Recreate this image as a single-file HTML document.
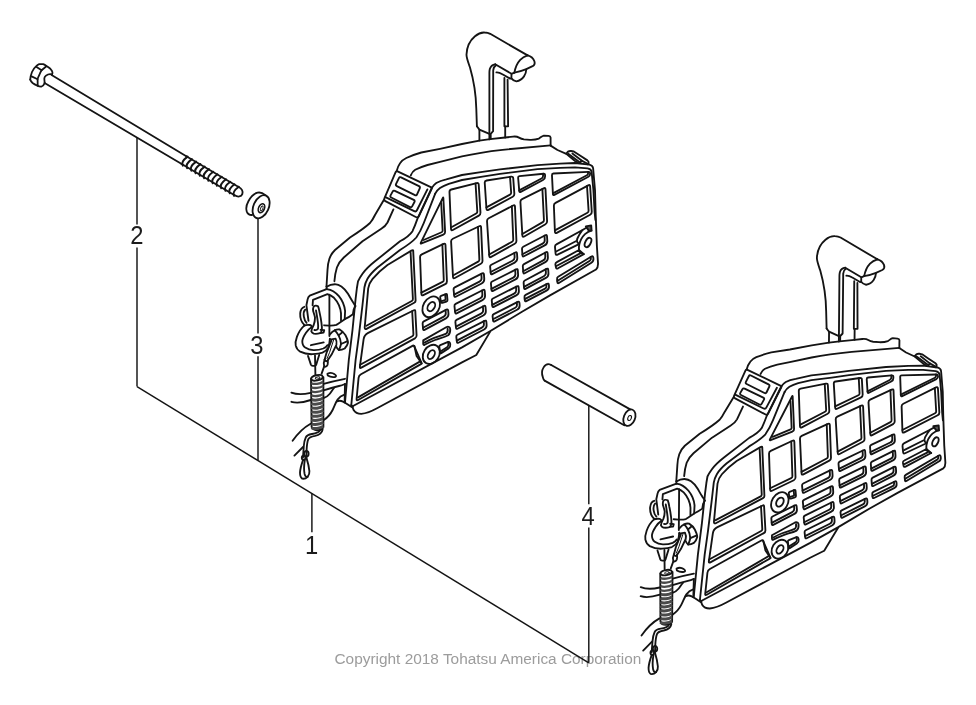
<!DOCTYPE html>
<html><head><meta charset="utf-8"><title>Parts diagram</title>
<style>
html,body{margin:0;padding:0;background:#fff;}
body{width:976px;height:705px;overflow:hidden;font-family:"Liberation Sans",sans-serif;}
svg{display:block;}
text{font-family:"Liberation Sans",sans-serif;}
</style></head><body>
<svg width="976" height="705" viewBox="0 0 976 705">
<defs><filter id="nf" x="-5%" y="-5%" width="110%" height="110%"><feOffset dx="0" dy="0"/></filter></defs>
<g filter="url(#nf)">
<text transform="translate(334.5,663.8) scale(1,1)" font-size="15.4" fill="#9c9c9c" text-anchor="start">Copyright 2018 Tohatsu America Corporation</text>
</g>
<g fill="none" stroke="#141414" stroke-width="1.8" stroke-linecap="round" stroke-linejoin="round">
<path d="M137.00,137.50 L137.00,224.40" stroke-width="1.45" stroke-linecap="butt"/>
<path d="M137.00,247.60 L137.00,386.60" stroke-width="1.45" stroke-linecap="butt"/>
<path d="M137.00,386.60 L588.80,662.80" stroke-width="1.45" stroke-linecap="butt"/>
<path d="M258.00,218.60 L258.00,333.40" stroke-width="1.45" stroke-linecap="butt"/>
<path d="M258.00,356.30 L258.00,460.60" stroke-width="1.45" stroke-linecap="butt"/>
<path d="M311.90,493.40 L311.90,532.20" stroke-width="1.45" stroke-linecap="butt"/>
<path d="M588.80,405.50 L588.80,504.20" stroke-width="1.45" stroke-linecap="butt"/>
<path d="M588.80,527.60 L588.80,662.80" stroke-width="1.45" stroke-linecap="butt"/>
<path d="M51.6,75.0 L186.3,156.2"/>
<path d="M44.6,82.9 L181.3,163.8"/>
<path d="M30.2,79.6 C30.4,76.8 31.2,74.0 32.0,72.0 C33.0,69.4 34.6,67.6 36.0,66.4 C37.0,65.4 38.2,64.6 39.2,64.2 L43.2,64.2 C44.4,64.6 45.4,65.2 46.4,66.0 C47.8,66.8 49.2,67.8 50.4,68.8 C51.4,69.8 52.2,70.8 52.4,72.0 C52.6,73.0 52.4,73.8 52.0,74.4"/>
<path d="M52.0,74.4 C50.6,73.9 49.2,74.0 48.0,74.5 C46.6,75.1 45.4,75.9 44.8,76.9 C44.2,78.0 44.2,79.0 44.4,80.0 L44.7,83.2"/>
<path d="M36.2,66.8 L41.6,70.2 L46.4,66.2"/>
<path d="M41.6,70.2 C40.4,72.0 39.8,73.6 39.2,75.2 C38.4,76.8 37.8,78.0 37.6,79.2 L37.7,85.8"/>
<path d="M31.6,76.4 L37.6,79.2"/>
<path d="M30.2,79.6 C30.6,81.0 31.4,82.0 32.6,83.0 C34.0,84.0 35.4,84.8 36.8,85.4 C38.4,86.2 40.0,86.8 41.3,86.7 C42.8,86.4 43.9,85.0 44.7,83.2"/>
<path d="M186.3,156.2 L238.2,186.8"/>
<path d="M181.3,163.8 L234.6,195.3"/>
<path d="M238.2,186.8 C241.5,188.5 243.2,191.5 242.3,194.2 C241.2,196.8 237.8,197.3 234.6,195.3"/>
<path d="M187.60,156.60 C184.60,158.80 180.80,162.00 182.80,165.60" stroke-width="2.0"/>
<path d="M191.87,159.12 C188.87,161.32 185.07,164.52 187.07,168.12" stroke-width="2.0"/>
<path d="M196.13,161.63 C193.13,163.83 189.33,167.03 191.33,170.63" stroke-width="2.0"/>
<path d="M200.40,164.15 C197.40,166.35 193.60,169.55 195.60,173.15" stroke-width="2.0"/>
<path d="M204.67,166.67 C201.67,168.87 197.87,172.07 199.87,175.67" stroke-width="2.0"/>
<path d="M208.93,169.18 C205.93,171.38 202.13,174.58 204.13,178.18" stroke-width="2.0"/>
<path d="M213.20,171.70 C210.20,173.90 206.40,177.10 208.40,180.70" stroke-width="2.0"/>
<path d="M217.47,174.22 C214.47,176.42 210.67,179.62 212.67,183.22" stroke-width="2.0"/>
<path d="M221.73,176.73 C218.73,178.93 214.93,182.13 216.93,185.73" stroke-width="2.0"/>
<path d="M226.00,179.25 C223.00,181.45 219.20,184.65 221.20,188.25" stroke-width="2.0"/>
<path d="M230.27,181.77 C227.27,183.97 223.47,187.17 225.47,190.77" stroke-width="2.0"/>
<path d="M234.53,184.28 C231.53,186.48 227.73,189.68 229.73,193.28" stroke-width="2.0"/>
<path d="M238.80,186.80 C235.80,189.00 232.00,192.20 234.00,195.80" stroke-width="2.0"/>
<path d="M265.4,195.1 C262.5,192.8 259.8,192.2 257.6,192.7 C253.5,193.8 250.6,197.2 248.4,201.2 C246.5,204.6 245.8,208.3 246.7,211.3 C247.6,213.6 249.7,215.2 252.1,215.0"/>
<ellipse cx="261.1" cy="206.8" rx="7.6" ry="12.2" transform="rotate(24 261.1 206.8)"/>
<ellipse cx="261.5" cy="208.2" rx="2.9" ry="4.7" transform="rotate(24 261.5 208.2)" stroke-width="1.6"/>
<ellipse cx="261.7" cy="208.4" rx="1.1" ry="2.6" transform="rotate(24 261.7 208.4)" stroke-width="0.9"/>
<path d="M551.2,365.0 L630.2,409.4"/>
<path d="M544.6,380.6 L624.2,425.3"/>
<path d="M551.2,365.0 C548.5,363.6 545.4,364.4 543.6,367.4 C541.6,370.6 541.8,374.6 542.9,377.4 C543.3,378.9 543.8,380.0 544.6,380.6"/>
<ellipse cx="629.4" cy="417.7" rx="5.6" ry="8.6" transform="rotate(22 629.4 417.7)"/>
<ellipse cx="629.6" cy="418.0" rx="1.7" ry="2.6" transform="rotate(22 629.6 418.0)" stroke-width="1.1"/>
</g>
<g fill="none" stroke="#141414" stroke-width="1.85" stroke-linecap="round" stroke-linejoin="round">
<path d="M476.9,126.3 L476.3,108.8 C476.0,95 474.2,82 470.0,67.5 C467.5,60.5 466.3,57.5 466.5,54.5 C466.8,47 470.2,40.2 475.0,36.2 C478.0,33.6 481.8,32.3 484.6,32.5 C487.0,32.6 488.6,33.0 490.2,33.8 L527.6,55.4"/>
<path d="M527.6,55.4 C530.6,56.2 533.4,58.4 534.4,61.2 C535.1,63.4 534.4,65.2 532.6,66.2 L526.3,69.2 C522.5,70.8 518.5,72.0 514.4,72.6"/>
<path d="M527.6,55.4 C524.6,56.4 522.2,57.8 520.2,59.8 C517.6,62.6 515.4,66.8 514.4,72.6"/>
<path d="M526.3,69.2 C526.2,72.0 525.4,74.4 524.0,76.4 C522.2,79.0 519.4,80.8 516.4,81.3 C514.4,81.0 512.6,80.0 511.4,78.4 L511.5,73.8 L514.4,72.6"/>
<path d="M495.2,64.3 L511.5,73.8"/>
<path d="M496.4,72.4 C498.4,72.2 500.4,73.0 502.4,74.2 L510.2,78.6 L511.4,78.4"/>
<path d="M495.2,64.3 C492.6,64.6 490.6,66.4 489.8,69.0 C489.5,70.4 489.4,71.6 489.4,72.6 L489.4,139.4"/>
<path d="M495.8,65.4 C494.2,66.4 493.4,68.2 493.2,70.4 L493.1,131.2 L490.7,133.8 L490.7,138.9"/>
<path d="M504.4,77.8 L504.4,126.3 L508.1,126.3 L507.6,79.6"/>
<path d="M505.2,126.3 L505.2,137.5"/>
<path d="M476.9,126.3 L479.4,129.6 L489.4,133.9"/>
<path d="M479.4,129.8 L479.4,140.6"/>
<path d="M396.6,171.3 C397.6,167.6 398.6,165.0 400.2,163.0 C401.8,160.8 403.8,159.2 406.3,158.0 C411.0,155.8 416.0,154.0 421.3,152.5 L440.0,148.8 L462.0,144.0 L479.4,140.7 L490.0,139.2 L505.2,137.5 L513.0,136.6 C515.6,136.3 517.4,136.6 519.0,137.6 C520.6,138.6 522.2,139.2 524.0,139.4 L530.0,139.8 C533.6,139.9 536.8,139.4 538.8,138.6 C540.6,137.6 541.8,136.0 543.8,135.6 L548.6,135.9 C549.8,136.1 550.5,136.8 550.6,137.6 L550.6,145.6"/>
<path d="M410.8,175.4 C411.8,172.8 413.2,171.0 415.2,169.8 C418.6,168.0 422.8,166.4 427.5,165.0 L440.0,161.9 L462.0,156.4 C475.0,153.4 488.0,151.4 502.5,149.8 L550.6,145.4"/>
<path d="M550.6,145.6 L557.5,150.0 L566.3,153.9 L575.0,161.0 L578.0,162.8"/>
<path d="M566.3,153.6 L568.0,151.6 C569.0,151.0 570.0,150.9 571.0,151.0 L573.8,151.5 L580.0,155.6 L587.4,160.4 C588.4,161.2 588.9,162.2 588.6,163.2 L587.8,164.4"/>
<path d="M568.2,153.8 L580.0,162.4"/>
<path d="M572.4,153.6 L581.6,160.6 L587.6,163.8"/>
<path d="M581.6,160.6 L580.4,162.6"/>
<path d="M431.9,187.7 C433.2,185.6 434.6,184.2 436.3,183.0 C439.0,181.4 442.4,180.2 446.3,179.3 L462.0,175.0 L482.5,171.9 L500.0,169.4 L537.5,165.2 L560.0,163.6 L575.0,163.0 L589.4,164.6 C591.6,165.2 592.8,166.4 593.1,168.2 L595.0,190.0 L595.7,215.0 L596.9,246.3 L598.0,263.0 C598.2,266.0 597.6,268.0 596.0,269.5 L550.0,295.4 L522.0,311.8 L490.0,331.2 L462.0,347.4 L352.6,406.3"/>
<path d="M435.2,193.6 C436.6,191.0 438.0,189.4 440.0,188.0 C442.4,186.4 445.4,185.0 448.8,183.8 L462.0,180.0 L482.5,176.6 L500.0,173.8 L537.5,169.2 L560.0,167.8 L575.0,167.4 L587.6,168.4 C589.8,168.8 591.2,169.8 591.6,171.6 L593.4,190.0 L594.6,212.0 L595.4,220.0"/>
<path d="M431.9,187.7 L417.5,218.6 C415.6,224.0 414.0,228.0 412.5,231.2 C409.6,235.6 405.4,238.4 400.0,241.3 L375.0,261.3 C369.6,265.6 365.4,269.6 362.5,273.8 C360.4,276.8 358.8,279.6 358.0,281.3 L356.9,288.0 L355.6,298.8 L352.5,330.0 L348.8,360.0 L345.0,402.5"/>
<path d="M435.2,193.6 L423.8,223.0 C421.6,228.6 419.2,233.4 416.3,237.5 C412.0,242.4 406.4,246.0 400.0,250.0 L377.5,267.5 C373.0,271.4 369.6,275.2 367.5,278.8 C365.8,281.8 364.8,285.0 364.4,287.5 L362.5,305.0 L358.8,336.3 L355.6,360.0 L351.3,405.0"/>
<path d="M351.3,405.0 C351.6,406.2 352.0,406.5 352.6,406.3"/>
<path d="M490.2,331.6 L476.3,355.0 L462.0,362.4 L377.5,408.0 C371.0,411.6 366.0,413.4 361.3,413.8 C357.6,413.8 355.0,412.4 353.6,410.0 C352.8,408.6 352.6,407.4 352.6,406.3"/>
<path d="M383.8,200.0 L375.0,215.0 C373.6,218.0 372.0,220.6 370.0,223.0 C365.0,227.6 358.0,232.4 350.0,237.5 L335.0,250.0 C332.4,252.6 330.4,255.6 329.4,258.8 C328.2,262.4 327.6,266.0 327.5,270.0 L326.5,286.3"/>
<path d="M393.4,209.4 L387.5,222.5 C386.0,225.2 384.0,227.2 381.3,228.8 L362.5,241.3 L343.8,257.5 C340.4,260.6 338.2,264.0 336.9,267.5 C335.6,271.6 334.8,276.0 334.4,281.3"/>
<path d="M397.56,171.44 L431.30,187.37 Q432.20,187.80 431.78,188.71 L419.06,215.93 Q418.00,218.20 415.78,217.04 L385.37,201.13 Q383.60,200.20 384.39,198.36 L395.61,172.18 Q396.20,170.80 397.56,171.44 Z"/>
<path d="M427.40,189.40 L416.90,210.21 Q416.00,212.00 414.20,211.13 L385.40,197.20"/>
<path d="M401.04,177.30 L418.96,186.10 Q420.40,186.80 419.75,188.26 L417.05,194.34 Q416.40,195.80 414.97,195.09 L396.83,186.11 Q395.40,185.40 396.09,183.96 L398.91,178.04 Q399.60,176.60 401.04,177.30 Z"/>
<path d="M394.84,190.89 L413.76,199.91 Q415.20,200.60 414.45,202.02 L412.15,206.38 Q411.40,207.80 409.97,207.07 L391.23,197.53 Q389.80,196.80 390.57,195.40 L392.63,191.60 Q393.40,190.20 394.84,190.89 Z"/>
<path d="M413.2,250.6 L415.6,300.4 Q415.7,302.0 414.2,302.8 L367.0,328.6 Q364.5,330.0 364.7,327.2 L368.2,288.4 C368.8,284.6 370.4,281.4 372.6,278.8 C376.8,273.8 381.6,269.4 387.5,265.0 L411.4,250.6 Q413.1,249.6 413.2,250.6 Z"/>
<path d="M410.6,252.6 L412.9,299.0 Q412.9,300.4 411.8,301.0 L366.4,325.8"/>
<path d="M368.23,332.81 L413.86,310.26 Q415.20,309.60 415.28,311.10 L416.59,335.40 Q416.70,337.40 414.94,338.36 L361.36,367.64 Q359.60,368.60 359.87,366.62 L363.59,339.26 Q364.20,334.80 368.23,332.81 Z"/>
<path d="M412.18,311.09 L413.42,334.22 Q413.50,335.62 412.27,336.29 L360.12,364.78"/>
<path d="M360.99,374.20 L412.92,345.68 Q413.80,345.20 414.20,346.12 L421.40,362.68 Q421.80,363.60 420.93,364.10 L358.14,400.01 Q356.40,401.00 356.59,399.01 L358.57,377.89 Q358.80,375.40 360.99,374.20 Z"/>
<path d="M420.2,361.4 L358.0,397.4"/>
<path d="M414.4,346.0 L416.6,356.0 L421.8,363.6"/>
<path d="M443.35,198.00 L445.10,231.80 Q445.20,233.80 443.35,234.56 L421.59,243.43 Q420.20,244.00 420.86,242.65 L442.86,197.90 Q443.30,197.00 443.35,198.00 Z"/>
<path d="M441.20,203.00 L442.64,230.60 Q442.70,231.80 441.60,232.27 L423.60,240.00"/>
<path d="M421.80,254.33 L443.60,243.87 Q445.40,243.00 445.48,245.00 L446.92,281.20 Q447.00,283.20 445.21,284.10 L423.29,295.10 Q421.50,296.00 421.43,294.00 L420.07,257.20 Q420.00,255.20 421.80,254.33 Z"/>
<path d="M442.36,244.46 L443.77,279.93 Q443.82,281.33 442.57,281.95 L421.37,292.59"/>
<ellipse cx="431.2" cy="306.8" rx="8.0" ry="11.0" transform="rotate(30 431.2 306.8)"/>
<ellipse cx="431.3" cy="306.6" rx="3.3" ry="5.0" transform="rotate(32 431.3 306.6)"/>
<path d="M441.11,295.95 L445.79,294.05 Q446.90,293.60 447.01,294.79 L447.49,300.01 Q447.60,301.20 446.45,301.56 L442.35,302.84 Q441.20,303.20 440.99,302.02 L440.21,297.58 Q440.00,296.40 441.11,295.95 Z"/>
<path d="M445.16,294.31 L445.60,299.12 Q445.67,299.92 444.91,300.15 L440.88,301.41"/>
<path d="M423.83,321.31 L446.40,309.63 Q448.00,308.80 448.18,310.59 L448.48,313.62 Q448.80,316.80 445.98,318.32 L424.52,329.89 Q423.20,330.60 423.08,329.10 L422.62,323.50 Q422.50,322.00 423.83,321.31 Z"/>
<path d="M445.52,310.09 L445.78,312.75 Q446.04,315.33 443.75,316.57 L422.97,327.77"/>
<path d="M423.2,340.4 L446.6,327.0 C448.6,326.2 450.0,327.2 450.2,329.0 C450.4,331.6 449.6,334.0 448.2,335.2 C444.0,337.4 439.0,338.4 435.0,340.0 C431.0,341.6 427.4,343.2 424.6,344.8 Q423.2,345.4 423.2,343.8 Z"/>
<path d="M447.6,328.6 C448.0,330.6 447.4,332.6 446.2,333.6 C442.0,335.6 437.6,336.6 433.6,338.2 C430.0,339.6 427.0,341.2 424.6,342.6"/>
<ellipse cx="431.3" cy="354.4" rx="7.8" ry="10.2" transform="rotate(32 431.3 354.4)"/>
<ellipse cx="431.3" cy="354.6" rx="3.0" ry="4.8" transform="rotate(32 431.3 354.6)"/>
<path d="M440.31,345.14 L447.49,342.16 Q449.80,341.20 450.14,343.68 L450.26,344.52 Q450.60,347.00 448.51,348.37 L441.20,353.14 Q440.20,353.80 440.05,352.61 L439.35,346.79 Q439.20,345.60 440.31,345.14 Z"/>
<path d="M448.08,341.91 L448.40,344.23 Q448.66,346.12 447.07,347.16 L439.96,351.81"/>
<path d="M451.34,189.51 L476.66,183.09 Q478.60,182.60 478.72,184.60 L480.48,212.60 Q480.60,214.60 478.85,215.57 L452.85,230.03 Q451.10,231.00 451.02,229.00 L449.48,192.00 Q449.40,190.00 451.34,189.51 Z"/>
<path d="M475.54,183.37 L477.30,211.44 Q477.38,212.84 476.16,213.52 L450.96,227.53"/>
<path d="M452.81,238.74 L479.19,226.26 Q481.00,225.40 481.09,227.40 L482.51,260.80 Q482.60,262.80 480.85,263.76 L454.85,278.04 Q453.10,279.00 452.99,277.00 L451.11,241.60 Q451.00,239.60 452.81,238.74 Z"/>
<path d="M477.96,226.84 L479.36,259.61 Q479.42,261.01 478.19,261.68 L452.92,275.56"/>
<path d="M454.74,287.32 L482.19,273.41 Q483.80,272.60 483.93,274.40 L484.26,278.81 Q484.50,282.00 481.65,283.46 L455.74,296.72 Q454.40,297.40 454.24,295.91 L453.56,289.49 Q453.40,288.00 454.74,287.32 Z"/>
<path d="M481.29,273.87 L481.59,277.88 Q481.78,280.47 479.46,281.66 L454.11,294.63"/>
<path d="M455.64,303.92 L483.00,290.02 Q484.60,289.20 484.73,291.00 L485.06,295.41 Q485.30,298.60 482.45,300.06 L456.63,313.31 Q455.30,314.00 455.14,312.51 L454.46,306.09 Q454.30,304.60 455.64,303.92 Z"/>
<path d="M482.09,290.48 L482.39,294.48 Q482.58,297.07 480.27,298.26 L455.01,311.23"/>
<path d="M456.54,319.92 L483.80,306.02 Q485.40,305.20 485.54,306.99 L485.85,310.81 Q486.10,314.00 483.26,315.47 L457.53,328.71 Q456.20,329.40 456.03,327.91 L455.37,322.09 Q455.20,320.60 456.54,319.92 Z"/>
<path d="M482.89,306.48 L483.16,309.89 Q483.37,312.48 481.06,313.67 L455.89,326.64"/>
<path d="M457.44,334.72 L484.60,320.82 Q486.20,320.00 486.36,321.79 L486.62,324.81 Q486.90,328.00 484.06,329.47 L458.43,342.71 Q457.10,343.40 456.91,341.91 L456.29,336.89 Q456.10,335.40 457.44,334.72 Z"/>
<path d="M483.70,321.28 L483.93,323.90 Q484.16,326.49 481.85,327.68 L456.76,340.65"/>
<path d="M486.58,180.49 L511.12,176.71 Q513.10,176.40 513.24,178.39 L514.36,193.81 Q514.50,195.80 512.74,196.75 L488.36,209.85 Q486.60,210.80 486.47,208.80 L484.73,182.80 Q484.60,180.80 486.58,180.49 Z"/>
<path d="M510.03,176.87 L511.16,192.62 Q511.26,194.02 510.03,194.68 L486.37,207.40"/>
<path d="M488.67,218.28 L513.13,205.52 Q514.90,204.60 514.98,206.60 L516.42,240.80 Q516.50,242.80 514.75,243.77 L491.15,256.93 Q489.40,257.90 489.27,255.90 L487.03,221.20 Q486.90,219.20 488.67,218.28 Z"/>
<path d="M511.86,206.18 L513.26,239.62 Q513.32,241.02 512.10,241.70 L489.18,254.47"/>
<path d="M491.34,264.72 L515.30,252.52 Q516.90,251.70 517.01,253.50 L517.30,257.91 Q517.50,261.10 514.66,262.57 L492.23,274.11 Q490.90,274.80 490.76,273.31 L490.14,266.89 Q490.00,265.40 491.34,264.72 Z"/>
<path d="M514.38,252.99 L514.63,256.97 Q514.80,259.57 512.49,260.76 L490.63,272.01"/>
<path d="M492.14,281.52 L516.10,269.32 Q517.70,268.50 517.81,270.30 L518.10,274.71 Q518.30,277.90 515.46,279.37 L493.03,290.91 Q491.70,291.60 491.56,290.11 L490.94,283.69 Q490.80,282.20 492.14,281.52 Z"/>
<path d="M515.18,269.79 L515.43,273.77 Q515.60,276.37 513.29,277.56 L491.43,288.81"/>
<path d="M492.94,298.52 L516.90,286.32 Q518.50,285.50 518.63,287.30 L518.87,290.71 Q519.10,293.90 516.26,295.37 L493.83,306.91 Q492.50,307.60 492.34,306.11 L491.76,300.69 Q491.60,299.20 492.94,298.52 Z"/>
<path d="M515.98,286.78 L516.20,289.78 Q516.38,292.37 514.07,293.56 L492.20,304.83"/>
<path d="M493.74,314.12 L517.70,301.92 Q519.30,301.10 519.45,302.89 L519.63,305.11 Q519.90,308.30 517.06,309.77 L494.63,321.31 Q493.30,322.00 493.11,320.51 L492.59,316.29 Q492.40,314.80 493.74,314.12 Z"/>
<path d="M516.80,302.37 L516.98,304.58 Q517.16,306.78 515.20,307.80 L492.96,319.25"/>
<path d="M519.49,176.15 L543.51,173.75 Q545.00,173.60 545.06,175.10 L545.10,176.30 Q545.20,178.80 543.00,179.98 L520.72,191.89 Q519.40,192.60 519.27,191.11 L518.13,177.79 Q518.00,176.30 519.49,176.15 Z"/>
<path d="M543.01,173.80 L543.08,175.73 Q543.15,177.63 541.48,178.52 L519.21,190.43"/>
<path d="M522.09,199.10 L543.61,188.30 Q545.40,187.40 545.50,189.40 L547.10,221.20 Q547.20,223.20 545.47,224.20 L524.23,236.50 Q522.50,237.50 522.38,235.50 L520.42,202.00 Q520.30,200.00 522.09,199.10 Z"/>
<path d="M542.37,188.92 L543.94,220.07 Q544.01,221.47 542.80,222.17 L522.30,234.04"/>
<path d="M523.23,246.80 L545.31,235.24 Q546.90,234.40 547.01,236.20 L547.30,240.71 Q547.50,243.90 544.67,245.39 L523.93,256.30 Q522.60,257.00 522.49,255.50 L522.01,249.00 Q521.90,247.50 523.23,246.80 Z"/>
<path d="M544.48,235.67 L544.74,239.85 Q544.90,242.44 542.60,243.65 L522.40,254.28"/>
<path d="M524.02,264.09 L545.92,252.26 Q547.50,251.40 547.62,253.20 L547.89,257.41 Q548.10,260.60 545.29,262.13 L524.72,273.28 Q523.40,274.00 523.29,272.50 L522.81,266.30 Q522.70,264.80 524.02,264.09 Z"/>
<path d="M545.08,252.71 L545.33,256.57 Q545.50,259.17 543.22,260.41 L523.19,271.27"/>
<path d="M524.82,280.49 L546.51,268.85 Q548.10,268.00 548.23,269.80 L548.47,273.21 Q548.70,276.40 545.88,277.92 L525.52,288.89 Q524.20,289.60 524.08,288.11 L523.62,282.69 Q523.50,281.20 524.82,280.49 Z"/>
<path d="M545.69,269.30 L545.91,272.37 Q546.09,274.97 543.80,276.20 L523.97,286.88"/>
<path d="M525.63,294.91 L547.10,283.83 Q548.70,283.00 548.87,284.79 L549.00,286.10 Q549.30,289.20 546.54,290.63 L526.33,301.11 Q525.00,301.80 524.83,300.31 L524.47,297.09 Q524.30,295.60 525.63,294.91 Z"/>
<path d="M546.31,284.24 L546.48,286.00 Q546.65,287.76 545.08,288.57 L524.70,299.14"/>
<path d="M553.40,173.53 L588.50,171.87 Q590.00,171.80 590.07,173.30 L590.10,173.80 Q590.20,175.80 588.43,176.74 L554.32,194.90 Q553.00,195.60 552.93,194.10 L551.97,175.10 Q551.90,173.60 553.40,173.53 Z"/>
<path d="M588.00,171.89 L588.07,173.26 Q588.14,174.63 586.93,175.28 L552.89,193.39"/>
<path d="M555.56,202.86 L588.24,185.34 Q590.00,184.40 590.13,186.40 L591.77,211.80 Q591.90,213.80 590.14,214.75 L556.76,232.85 Q555.00,233.80 554.92,231.80 L553.88,205.80 Q553.80,203.80 555.56,202.86 Z"/>
<path d="M587.00,186.01 L588.59,210.62 Q588.68,212.02 587.45,212.69 L554.86,230.35"/>
<path d="M555.0,247.2 Q554.8,245.2 556.4,244.4 L582.5,230.0 C580.6,232.6 578.9,235.2 577.6,238.0 C576.8,239.8 576.8,241.4 577.5,242.4 L579.0,244.1 L557.6,254.6 Q555.8,255.5 555.6,253.6 Z"/>
<path d="M556.6,251.3 L575.8,241.3"/>
<path d="M582.5,230.0 L586.4,227.8"/>
<path d="M585.8,226.4 L591.2,225.4 L591.6,230.6 L588.6,230.4 Z" fill="#555"/>
<path d="M591.4,230.7 C588.6,231.4 586.6,232.8 585.0,234.1 C583.2,235.8 582.0,237.6 581.2,239.1 C580.2,241.2 579.6,242.8 579.4,244.1 C578.9,246.0 578.8,248.0 579.0,249.8 C579.2,251.0 579.6,251.8 580.0,252.3 L583.8,254.1"/>
<path d="M555.4,264.6 Q555.2,262.9 556.8,262.1 L579.0,250.0 L583.8,254.1 L558.0,268.3 Q556.2,269.2 556.0,267.6 Z"/>
<path d="M556.4,266.0 L580.2,253.4"/>
<ellipse cx="588.0" cy="242.5" rx="2.7" ry="5.0" transform="rotate(27 588.0 242.5)"/>
<path d="M558.18,276.82 L591.46,256.54 Q593.00,255.60 593.25,257.38 L593.40,258.40 Q593.80,261.20 591.40,262.70 L558.87,283.01 Q557.60,283.80 557.43,282.31 L557.07,279.09 Q556.90,277.60 558.18,276.82 Z"/>
<path d="M590.68,257.02 L590.89,258.48 Q591.09,259.94 589.84,260.72 L557.29,281.05"/>
<path d="M326.6,286.4 L326.6,288.9"/>
<path d="M326.6,286.8 C329.0,285.2 332.0,284.2 334.8,284.2 C337.4,284.4 339.6,285.2 341.4,286.4 C344.2,288.4 346.4,291.0 348.0,293.8 C350.0,297.2 351.6,300.2 352.9,302.0 C353.8,303.4 354.8,304.8 355.4,306.0"/>
<path d="M355.4,306.0 C354.6,307.6 354.0,308.6 353.7,309.4 L352.9,314.2 C350.4,316.2 347.6,317.8 344.7,319.2 C342.0,321.0 339.2,323.2 336.4,324.9 C334.2,325.6 331.6,325.7 329.0,325.6 L324.1,325.3"/>
<path d="M326.6,289.1 L309.7,295.7 C308.6,296.6 307.9,297.8 307.6,299.4 L306.4,305.2 L308.5,320.8"/>
<path d="M326.6,289.1 C329.0,289.4 331.2,290.0 333.2,291.2 C335.4,292.6 337.3,294.2 338.9,296.1 C340.6,298.2 342.0,300.4 343.0,302.8 C344.2,305.6 344.9,308.4 345.1,311.0 L344.7,319.2"/>
<path d="M312.6,305.2 L313.0,299.8 L327.4,294.1 C329.8,294.8 332.0,296.0 334.0,297.8 C336.0,299.8 337.6,302.4 338.9,305.2 C340.0,307.8 340.8,310.6 341.0,313.4 L341.0,320.8"/>
<path d="M329.4,294.6 L329.4,336.0"/>
<path d="M304.3,306.8 C302.2,307.4 300.6,309.8 300.2,313.4 C300.0,317.6 301.6,322.4 304.3,324.9"/>
<path d="M305.2,309.6 C303.8,311.0 303.4,313.6 303.8,316.4 C304.2,319.0 305.2,321.4 306.6,322.8"/>
<path d="M313.6,306.6 C314.4,305.6 316.6,305.4 318.0,306.2 C318.8,308.0 319.2,310.2 319.6,312.6 C320.4,316.0 321.0,319.4 321.4,322.6 C321.8,325.4 322.0,328.0 321.9,330.0 C321.6,331.8 320.8,332.8 320.0,333.2 C318.0,333.8 315.6,333.9 313.8,333.7 C312.4,333.2 311.6,332.4 311.3,331.3 C311.6,329.0 312.6,327.0 313.7,325.0 C314.6,322.6 315.0,320.0 315.0,317.5 C314.6,315.2 313.8,313.2 313.2,311.3 C312.9,309.4 313.0,307.8 313.6,306.6 Z"/>
<path d="M316.0,310.4 C316.6,314.0 317.4,318.4 317.9,322.5 C318.2,324.8 318.3,327.0 318.0,328.8 C317.2,330.0 315.8,330.4 314.4,330.0"/>
<path d="M320.6,329.8 L324.2,330.2 L323.6,332.6 L320.4,333.0"/>
<path d="M304.3,325.6 C301.0,328.4 298.6,332.2 296.9,336.9 C295.6,340.6 295.2,343.0 295.7,345.4 C296.4,348.4 298.0,350.4 300.2,351.7 C304.0,353.6 308.2,354.4 312.6,354.2 C316.4,354.0 319.8,353.6 322.5,352.6 C325.2,351.4 327.2,349.8 328.2,347.6 C329.2,345.0 329.7,342.0 329.9,338.6"/>
<path d="M311.8,327.0 C309.6,328.4 307.6,330.4 306.0,332.8 C304.0,335.8 302.6,338.4 302.3,341.0 C302.2,344.0 303.2,346.2 305.2,347.6 C307.6,349.2 310.4,350.0 313.4,350.1 C317.0,350.2 320.4,349.6 323.3,348.5 C325.4,347.6 326.8,346.6 327.4,345.2"/>
<path d="M304.3,325.6 C306.0,324.8 308.2,324.8 310.0,325.0 C311.2,325.4 311.8,326.2 311.8,327.0"/>
<path d="M310.9,345.2 L323.7,342.4"/>
<path d="M308.0,355.9 L310.9,364.6 Q311.4,365.8 312.8,365.8 L314.6,365.8 Q315.8,365.8 316.2,364.6 L319.2,355.0"/>
<path d="M315.0,355.4 L315.4,374.4"/>
<path d="M334.8,330.4 C336.4,329.4 338.2,329.2 339.7,329.5 C342.2,331.0 344.2,333.0 345.5,335.3 C346.8,337.6 347.7,340.2 348.0,342.7 C347.4,345.0 346.2,347.0 344.7,348.5 C342.8,349.6 340.8,350.1 338.9,350.1 C337.6,349.2 336.8,348.0 336.4,346.8"/>
<path d="M334.8,330.4 C336.4,332.0 337.6,333.6 338.6,335.4 L342.4,332.2"/>
<path d="M338.6,335.4 C340.0,338.0 340.8,341.0 341.0,344.0 L347.6,341.2"/>
<path d="M341.0,344.0 C340.6,346.2 339.8,348.2 338.9,350.1"/>
<path d="M329.9,334.4 C331.6,332.4 333.2,331.0 334.8,330.4"/>
<path d="M329.9,339.6 L335.6,338.6 C336.6,340.4 336.8,342.8 336.4,344.8 L331.6,354.6 L327.6,360.6"/>
<path d="M331.4,340.6 L326.6,352.6 L324.6,359.8"/>
<path d="M333.6,340.0 L329.6,352.4 L327.0,358.6" stroke-width="1.0"/>
<path d="M324.6,359.8 C325.6,361.6 327.0,361.6 327.6,360.6"/>
<path d="M324.6,359.8 C323.6,362.0 323.4,364.6 324.2,366.4 C325.4,367.2 326.8,366.4 327.6,364.6 C328.2,362.8 328.0,361.4 327.6,360.6"/>
<path d="M324.2,366.4 L321.6,373.6"/>
<ellipse cx="317.0" cy="377.8" rx="5.8" ry="2.6" transform="rotate(-12 317 377.8)"/>
<ellipse cx="317.6" cy="378.0" rx="2.4" ry="1.1" transform="rotate(-12 317.6 378)" stroke-width="1.0"/>
<path d="M311.0,378.6 L311.6,427.0 C312.6,429.4 315.0,430.4 317.6,430.2 C320.4,430.0 322.6,428.8 323.4,427.0 L323.4,377.2"/>
<path d="M311.4,383.20 C314.0,384.60 320.0,384.00 323.2,381.80" stroke-width="2.3" stroke="#4a4a4a" stroke-linecap="butt"/>
<path d="M311.4,387.25 C314.0,388.65 320.0,388.05 323.2,385.85" stroke-width="2.3" stroke="#4a4a4a" stroke-linecap="butt"/>
<path d="M311.4,391.30 C314.0,392.70 320.0,392.10 323.2,389.90" stroke-width="2.3" stroke="#4a4a4a" stroke-linecap="butt"/>
<path d="M311.4,395.35 C314.0,396.75 320.0,396.15 323.2,393.95" stroke-width="2.3" stroke="#4a4a4a" stroke-linecap="butt"/>
<path d="M311.4,399.40 C314.0,400.80 320.0,400.20 323.2,398.00" stroke-width="3.0" stroke="#4a4a4a" stroke-linecap="butt"/>
<path d="M311.4,403.45 C314.0,404.85 320.0,404.25 323.2,402.05" stroke-width="3.0" stroke="#4a4a4a" stroke-linecap="butt"/>
<path d="M311.4,407.50 C314.0,408.90 320.0,408.30 323.2,406.10" stroke-width="3.0" stroke="#4a4a4a" stroke-linecap="butt"/>
<path d="M311.4,411.55 C314.0,412.95 320.0,412.35 323.2,410.15" stroke-width="3.0" stroke="#4a4a4a" stroke-linecap="butt"/>
<path d="M311.4,415.60 C314.0,417.00 320.0,416.40 323.2,414.20" stroke-width="3.0" stroke="#4a4a4a" stroke-linecap="butt"/>
<path d="M311.4,419.65 C314.0,421.05 320.0,420.45 323.2,418.25" stroke-width="3.0" stroke="#4a4a4a" stroke-linecap="butt"/>
<path d="M311.4,423.70 C314.0,425.10 320.0,424.50 323.2,422.30" stroke-width="3.0" stroke="#4a4a4a" stroke-linecap="butt"/>
<path d="M311.4,427.75 C314.0,429.15 320.0,428.55 323.2,426.35" stroke-width="3.0" stroke="#4a4a4a" stroke-linecap="butt"/>
<path d="M291.4,392.6 C296.0,394.4 303.0,394.6 310.6,392.8"/>
<path d="M291.4,401.8 C296.0,403.2 303.0,402.6 310.8,400.0"/>
<path d="M323.6,383.8 C330.0,382.0 337.0,380.4 345.0,378.8"/>
<path d="M323.6,390.4 C329.0,388.6 334.0,387.2 339.0,386.0 C341.6,385.4 343.6,384.6 345.0,384.0"/>
<path d="M327.4,373.8 C329.6,372.6 332.6,372.8 334.6,374.2 C336.4,375.4 336.6,376.6 335.0,377.0 C332.6,377.4 329.6,376.8 327.8,375.6 Z"/>
<path d="M323.6,398.0 C326.0,397.4 328.0,396.0 329.6,394.0 C331.2,392.0 332.2,390.0 334.0,388.0"/>
<path d="M323.8,420.0 C327.6,417.6 330.6,414.0 332.6,410.0 C334.4,406.4 335.6,402.6 337.6,399.6 C339.4,397.0 341.6,395.4 344.4,394.6"/>
<path d="M336.8,401.6 C338.6,400.4 341.0,400.6 343.0,401.6 C346.0,403.0 349.0,405.6 352.4,407.4"/>
<path d="M345.0,384.0 L344.6,402.4"/>
<path d="M292.6,440.8 C297.0,434.6 303.0,428.0 310.6,423.8"/>
<path d="M320.0,430.4 C319.0,432.4 316.0,433.4 312.0,434.0 C308.6,434.6 306.6,435.6 305.8,437.4 C304.6,440.0 304.0,443.0 303.8,446.0 L303.0,457.4"/>
<path d="M322.6,429.6 C322.0,433.0 319.0,435.0 315.0,435.8 C311.4,436.4 309.0,437.4 308.2,439.4 C307.2,442.0 306.8,446.0 306.6,450.0 L306.4,457.0"/>
<ellipse cx="306.4" cy="453.8" rx="2.2" ry="2.8"/>
<ellipse cx="303.6" cy="457.8" rx="1.8" ry="2.2"/>
<path d="M303.2,459.6 C301.6,464.0 300.2,468.4 300.0,472.6 C300.0,475.6 300.8,477.8 302.2,478.6 C304.2,479.0 306.2,478.2 307.6,476.8 C309.0,475.2 309.6,473.2 309.4,471.2 C309.0,466.8 307.8,462.0 306.4,457.6"/>
<path d="M304.8,460.0 C304.0,465.0 303.8,470.0 304.6,474.0 C305.2,476.2 306.2,477.2 307.6,476.8"/>
<path d="M294.4,455.6 L303.0,447.0"/>
</g>
<g fill="none" stroke="#141414" stroke-width="1.85" stroke-linecap="round" stroke-linejoin="round">
<path d="M 826.61,328.43 L 826.16,311.25 C 825.98,297.69 824.30,284.88 820.27,270.55 C 817.85,263.61 816.69,260.64 816.91,257.68 C 817.27,250.29 820.70,243.62 825.48,239.73 C 828.47,237.20 832.25,235.97 835.02,236.20 C 837.39,236.33 838.97,236.74 840.55,237.55 L 877.39,259.32"/>
<path d="M 877.39,259.32 C 880.36,260.14 883.11,262.35 884.08,265.12 C 884.75,267.30 884.05,269.07 882.26,270.03 L 875.99,272.91 C 872.22,274.44 868.25,275.58 864.18,276.12"/>
<path d="M 877.39,259.32 C 874.41,260.27 872.03,261.62 870.03,263.57 C 867.43,266.30 865.22,270.41 864.18,276.12"/>
<path d="M 875.99,272.91 C 875.87,275.67 875.06,278.03 873.66,279.98 C 871.86,282.52 869.07,284.26 866.10,284.72 C 864.12,284.40 862.34,283.39 861.17,281.80 L 861.30,277.27 L 864.18,276.12"/>
<path d="M 845.24,267.70 L 861.30,277.27"/>
<path d="M 846.36,275.70 C 848.34,275.53 850.32,276.35 852.29,277.55 L 859.98,281.98 L 861.17,281.80"/>
<path d="M 845.24,267.70 C 842.67,267.97 840.67,269.72 839.86,272.27 C 839.55,273.65 839.44,274.83 839.43,275.82 L 838.88,341.48"/>
<path d="M 845.83,268.79 C 844.23,269.76 843.43,271.53 843.21,273.69 L 842.62,333.49 L 840.22,336.01 L 840.17,341.01"/>
<path d="M 854.24,281.13 L 853.86,328.81 L 857.53,328.85 L 857.39,282.94"/>
<path d="M 854.65,328.82 L 854.55,339.80"/>
<path d="M 826.61,328.43 L 829.06,331.71 L 838.93,336.09"/>
<path d="M 829.06,331.90 L 828.96,342.49"/>
<path d="M 746.55,369.67 C 747.58,366.14 748.60,363.67 750.21,361.80 C 751.82,359.74 753.82,358.27 756.32,357.20 C 761.01,355.25 765.99,353.69 771.27,352.43 L 789.85,349.47 L 811.70,345.44 L 828.96,342.59 L 839.47,341.30 L 854.55,339.80 L 862.29,338.98 C 864.87,338.70 866.65,339.00 868.22,339.99 C 869.79,340.97 871.37,341.56 873.15,341.77 L 879.07,342.19 C 882.63,342.31 885.80,341.85 887.78,341.09 C 889.57,340.13 890.78,338.57 892.76,338.20 L 897.49,338.56 C 898.67,338.77 899.35,339.46 899.44,340.25 L 899.32,348.08"/>
<path d="M 760.59,373.96 C 761.61,371.50 763.02,369.82 765.02,368.74 C 768.41,367.13 772.60,365.75 777.28,364.59 L 789.72,362.08 L 811.59,357.52 C 824.49,354.94 837.38,353.22 851.75,351.82 L 899.33,347.88"/>
<path d="M 899.32,348.08 L 906.06,352.51 L 914.70,356.50 L 923.21,363.63 L 926.16,365.45"/>
<path d="M 914.70,356.21 L 916.41,354.29 C 917.40,353.72 918.39,353.65 919.38,353.77 L 922.14,354.32 L 928.22,358.47 L 935.50,363.33 C 936.48,364.13 936.96,365.11 936.66,366.08 L 935.85,367.23"/>
<path d="M 916.58,356.44 L 928.14,365.11"/>
<path d="M 920.73,356.34 L 929.75,363.39 L 935.66,366.64"/>
<path d="M 929.75,363.39 L 928.54,365.31"/>
<path d="M 781.40,386.27 C 782.71,384.32 784.11,383.04 785.81,381.96 C 788.51,380.55 791.90,379.55 795.78,378.86 L 811.40,375.45 L 831.73,373.12 L 849.03,370.91 L 886.07,367.02 L 908.33,365.84 L 923.18,365.58 L 937.44,367.46 C 939.61,368.09 940.79,369.28 941.07,371.03 L 942.76,391.92 L 943.24,415.49 L 944.25,445.55 L 945.33,461.95 C 945.53,464.92 944.93,466.89 943.34,468.35 L 897.57,492.89 L 869.69,508.47 L 837.87,527.34 L 810.18,542.93 L 701.20,601.05"/>
<path d="M 784.61,391.97 C 786.03,389.54 787.43,388.07 789.43,386.81 C 791.83,385.39 794.82,384.18 798.21,383.19 L 811.35,380.19 L 831.67,377.66 L 848.96,375.18 L 885.99,370.92 L 908.26,369.93 L 923.13,369.86 L 935.61,371.10 C 937.79,371.54 939.17,372.53 939.55,374.28 L 941.17,391.89 L 942.17,412.65 L 942.90,420.22"/>
<path d="M 781.40,386.27 L 766.80,415.80 C 764.87,421.05 763.24,424.95 761.72,428.07 C 758.80,432.35 754.60,435.06 749.22,437.86 L 724.29,457.25 C 718.95,461.39 714.79,465.23 711.92,469.28 C 709.84,472.16 708.26,474.86 707.46,476.51 L 706.36,483.02 L 705.03,493.55 L 701.80,524.23 L 697.90,554.64 L 693.71,597.27"/>
<path d="M 784.61,391.97 L 773.01,420.16 C 770.77,425.61 768.35,430.29 765.43,434.28 C 761.12,439.05 755.53,442.52 749.14,446.39 L 726.75,463.31 C 722.29,467.06 718.93,470.71 716.85,474.19 C 715.16,477.09 714.17,480.19 713.77,482.62 L 711.83,499.69 L 708.04,530.55 L 704.68,554.60 L 699.93,599.76"/>
<path d="M 699.93,599.76 C 700.21,600.95 700.61,601.25 701.20,601.05"/>
<path d="M 838.07,527.74 L 824.22,550.79 L 810.13,557.79 L 725.89,602.75 C 719.39,606.34 714.41,608.13 709.75,608.52 C 706.09,608.52 703.52,607.12 702.16,604.74 C 701.38,603.34 701.19,602.15 701.20,601.05"/>
<path d="M 733.56,397.31 L 724.66,411.93 C 723.24,414.86 721.62,417.41 719.61,419.76 C 714.60,424.25 707.62,428.91 699.67,433.83 L 684.82,445.78 C 682.24,448.26 680.27,451.13 679.27,454.22 C 678.08,457.70 677.48,461.18 677.37,465.07 L 676.31,480.96"/>
<path d="M 742.99,406.58 L 737.00,419.35 C 735.48,421.99 733.47,423.94 730.77,425.49 L 712.02,437.66 L 693.49,453.20 C 690.13,456.15 687.95,459.41 686.66,462.79 C 685.37,466.75 684.56,471.03 684.15,476.19"/>
<path d="M 747.50,369.83 L 780.81,385.94 Q 781.69,386.37 781.27,387.23 L 768.38,413.21 Q 767.30,415.41 765.11,414.26 L 735.11,398.42 Q 733.36,397.50 734.16,395.71 L 745.55,370.49 Q 746.15,369.18 747.50,369.83 Z"/>
<path d="M 776.91,387.76 L 766.29,407.62 Q 765.38,409.35 763.61,408.48 L 735.18,394.59"/>
<path d="M 750.89,375.54 L 768.58,384.40 Q 770.00,385.11 769.34,386.49 L 766.60,392.27 Q 765.94,393.67 764.53,392.96 L 746.63,383.97 Q 745.21,383.25 745.91,381.87 L 748.77,376.21 Q 749.47,374.84 750.89,375.54 Z"/>
<path d="M 744.61,388.57 L 763.28,397.59 Q 764.70,398.28 763.95,399.64 L 761.62,403.84 Q 760.86,405.21 759.45,404.48 L 740.96,394.98 Q 739.55,394.25 740.33,392.89 L 742.41,389.23 Q 743.18,387.88 744.61,388.57 Z"/>
<path d="M 762.24,447.10 L 764.40,495.83 Q 764.50,497.40 763.01,498.16 L 716.24,522.96 Q 713.74,524.33 713.95,521.56 L 717.52,483.53 C 718.12,479.84 719.71,476.75 721.88,474.24 C 726.04,469.42 730.80,465.19 736.65,460.95 L 760.45,447.08 Q 762.15,446.12 762.24,447.10 Z"/>
<path d="M 759.65,449.04 L 761.73,494.42 Q 761.73,495.79 760.64,496.36 L 715.64,520.19"/>
<path d="M 717.46,527.14 L 762.68,505.47 Q 764.00,504.84 764.08,506.31 L 765.42,530.23 Q 765.53,532.20 763.80,533.12 L 710.34,562.33 Q 708.57,563.33 708.86,561.31 L 712.81,533.54 Q 713.43,529.09 717.46,527.14 Z"/>
<path d="M 761.01,506.26 L 762.28,529.03 Q 762.37,530.41 761.15,531.05 L 709.14,559.44"/>
<path d="M 709.88,568.99 L 761.81,540.31 Q 762.68,539.85 763.08,540.76 L 770.19,557.18 Q 770.59,558.09 769.73,558.57 L 706.75,594.81 Q 705.02,595.79 705.22,593.81 L 707.42,572.73 Q 707.68,570.22 709.88,568.99 Z"/>
<path d="M 769.01,555.90 L 706.64,592.21"/>
<path d="M 763.28,540.64 L 765.46,550.53 L 770.59,558.09"/>
<path d="M 792.65,396.36 L 794.07,428.98 Q 794.16,430.93 792.31,431.66 L 770.63,440.15 Q 769.25,440.70 769.91,439.38 L 792.16,396.25 Q 792.61,395.41 792.65,396.36 Z"/>
<path d="M 790.46,401.06 L 791.64,427.78 Q 791.69,428.95 790.59,429.40 L 772.65,436.81"/>
<path d="M 770.75,450.85 L 792.49,440.78 Q 794.29,439.94 794.35,441.91 L 795.52,477.40 Q 795.58,479.36 793.80,480.22 L 772.02,490.75 Q 770.25,491.60 770.18,489.65 L 769.02,453.64 Q 768.96,451.68 770.75,450.85 Z"/>
<path d="M 791.25,441.35 L 792.40,476.12 Q 792.44,477.50 791.19,478.09 L 770.13,488.27"/>
<path d="M 786.67,506.35 C 783.66,511.48 778.17,513.83 774.38,511.60 C 770.60,509.37 769.96,503.42 772.97,498.30 C 775.99,493.19 781.51,490.83 785.29,493.04 C 789.08,495.26 789.69,501.22 786.67,506.35 Z"/>
<path d="M 782.69,503.88 C 781.24,506.16 778.83,507.23 777.30,506.25 C 775.77,505.28 775.71,502.65 777.16,500.37 C 778.60,498.09 781.02,497.03 782.55,498.00 C 784.09,498.97 784.14,501.61 782.69,503.88 Z"/>
<path d="M 789.67,491.80 L 794.32,489.99 Q 795.42,489.56 795.52,490.73 L 795.97,495.86 Q 796.07,497.03 794.93,497.37 L 790.87,498.58 Q 789.73,498.92 789.52,497.76 L 788.77,493.39 Q 788.57,492.23 789.67,491.80 Z"/>
<path d="M 793.69,490.24 L 794.10,494.96 Q 794.17,495.75 793.41,495.97 L 789.42,497.16"/>
<path d="M 772.54,516.47 L 794.86,505.31 Q 796.44,504.52 796.62,506.28 L 796.90,509.27 Q 797.21,512.41 794.43,513.87 L 773.24,524.93 Q 771.94,525.60 771.82,524.13 L 771.35,518.61 Q 771.23,517.13 772.54,516.47 Z"/>
<path d="M 793.98,505.75 L 794.24,508.38 Q 794.49,510.92 792.22,512.11 L 771.71,522.82"/>
<path d="M 771.96,535.26 L 795.03,522.44 C 797.01,521.69 798.39,522.70 798.59,524.48 C 798.78,527.05 797.99,529.41 796.61,530.57 C 792.47,532.66 787.55,533.55 783.60,535.06 C 779.66,536.57 776.11,538.08 773.35,539.61 Q 771.97,540.18 771.97,538.60 Z"/>
<path d="M 796.02,524.04 C 796.41,526.02 795.82,527.99 794.64,528.95 C 790.50,530.85 786.16,531.75 782.22,533.26 C 778.67,534.58 775.71,536.10 773.35,537.44"/>
<path d="M 786.47,553.39 C 783.53,558.04 778.23,559.92 774.63,557.61 C 771.03,555.31 770.50,549.65 773.45,545.00 C 776.38,540.34 781.68,538.44 785.29,540.76 C 788.89,543.08 789.42,548.74 786.47,553.39 Z"/>
<path d="M 782.47,551.00 C 781.09,553.19 778.84,554.24 777.46,553.35 C 776.07,552.45 776.07,549.96 777.46,547.77 C 778.84,545.58 781.09,544.52 782.47,545.42 C 783.86,546.31 783.86,548.81 782.47,551.00 Z"/>
<path d="M 788.84,540.23 L 795.91,537.43 Q 798.19,536.53 798.52,538.99 L 798.64,539.82 Q 798.97,542.28 796.91,543.59 L 789.72,548.14 Q 788.73,548.77 788.58,547.59 L 787.90,541.84 Q 787.75,540.66 788.84,540.23 Z"/>
<path d="M 796.49,537.20 L 796.81,539.50 Q 797.06,541.37 795.50,542.36 L 788.50,546.80"/>
<path d="M 800.67,388.65 L 825.83,383.69 Q 827.75,383.29 827.84,385.18 L 829.30,411.02 Q 829.40,412.89 827.67,413.75 L 801.79,427.31 Q 800.04,428.24 799.98,426.29 L 798.79,390.91 Q 798.74,389.03 800.67,388.65 Z"/>
<path d="M 824.72,383.91 L 826.17,409.86 Q 826.24,411.16 825.03,411.77 L 799.93,424.86"/>
<path d="M 801.68,435.83 L 827.95,423.94 Q 829.74,423.15 829.82,425.08 L 830.99,457.71 Q 831.07,459.68 829.32,460.60 L 803.41,474.37 Q 801.67,475.29 801.57,473.33 L 799.97,438.62 Q 799.88,436.66 801.68,435.83 Z"/>
<path d="M 826.73,424.48 L 827.88,456.51 Q 827.93,457.88 826.70,458.53 L 801.51,471.92"/>
<path d="M 803.23,483.47 L 830.57,470.09 Q 832.17,469.31 832.29,471.08 L 832.58,475.42 Q 832.79,478.55 829.95,479.96 L 804.16,492.72 Q 802.83,493.37 802.68,491.91 L 802.05,485.59 Q 801.90,484.13 803.23,483.47 Z"/>
<path d="M 829.68,470.53 L 829.94,474.47 Q 830.11,477.02 827.80,478.16 L 802.56,490.65"/>
<path d="M 804.03,499.81 L 831.24,486.43 Q 832.83,485.64 832.94,487.42 L 833.23,491.77 Q 833.45,494.92 830.61,496.32 L 804.97,509.08 Q 803.65,509.74 803.49,508.27 L 802.85,501.93 Q 802.69,500.46 804.03,499.81 Z"/>
<path d="M 830.33,486.87 L 830.60,490.82 Q 830.76,493.37 828.47,494.52 L 803.37,507.01"/>
<path d="M 804.86,515.61 L 831.91,502.23 Q 833.50,501.44 833.62,503.22 L 833.90,507.01 Q 834.13,510.17 831.31,511.59 L 805.82,524.33 Q 804.50,524.98 804.34,523.51 L 803.70,517.74 Q 803.53,516.26 804.86,515.61 Z"/>
<path d="M 831.00,502.68 L 831.24,506.06 Q 831.43,508.63 829.14,509.78 L 804.20,522.25"/>
<path d="M 805.72,530.27 L 832.60,516.93 Q 834.19,516.13 834.33,517.92 L 834.57,520.92 Q 834.83,524.10 832.01,525.53 L 806.68,538.21 Q 805.37,538.86 805.19,537.38 L 804.58,532.40 Q 804.40,530.92 805.72,530.27 Z"/>
<path d="M 831.70,517.37 L 831.92,519.98 Q 832.13,522.56 829.84,523.71 L 805.04,536.13"/>
<path d="M 835.65,381.48 L 859.84,378.02 Q 861.80,377.73 861.89,379.66 L 862.68,394.52 Q 862.78,396.43 861.03,397.31 L 837.05,408.75 Q 835.32,409.55 835.21,407.72 L 833.79,383.64 Q 833.69,381.73 835.65,381.48 Z"/>
<path d="M 858.77,378.18 L 859.56,393.34 Q 859.63,394.68 858.41,395.29 L 835.12,406.43"/>
<path d="M 837.33,416.57 L 861.29,405.63 Q 863.04,404.81 863.10,406.71 L 864.55,438.97 Q 864.63,440.89 862.92,441.76 L 839.58,454.04 Q 837.84,454.96 837.73,453.00 L 835.71,419.28 Q 835.59,417.38 837.33,416.57 Z"/>
<path d="M 860.04,406.22 L 861.45,437.73 Q 861.51,439.07 860.31,439.68 L 837.65,451.60"/>
<path d="M 839.71,461.68 L 863.45,450.21 Q 865.03,449.46 865.13,451.21 L 865.41,455.49 Q 865.59,458.60 862.78,459.97 L 840.51,470.90 Q 839.19,471.56 839.06,470.10 L 838.50,463.79 Q 838.38,462.32 839.71,461.68 Z"/>
<path d="M 862.54,450.65 L 862.78,454.52 Q 862.94,457.05 860.65,458.16 L 838.95,468.82"/>
<path d="M 840.36,478.18 L 864.17,466.59 Q 865.75,465.82 865.85,467.59 L 866.11,471.91 Q 866.29,475.04 863.47,476.43 L 841.17,487.44 Q 839.84,488.10 839.72,486.63 L 839.16,480.30 Q 839.03,478.83 840.36,478.18 Z"/>
<path d="M 863.26,467.04 L 863.48,470.94 Q 863.63,473.49 861.33,474.62 L 839.60,485.35"/>
<path d="M 841.02,494.94 L 864.84,483.28 Q 866.43,482.50 866.54,484.27 L 866.76,487.62 Q 866.96,490.76 864.14,492.17 L 841.83,503.25 Q 840.51,503.91 840.36,502.44 L 839.83,497.07 Q 839.68,495.59 841.02,494.94 Z"/>
<path d="M 863.93,483.71 L 864.12,486.67 Q 864.28,489.22 861.98,490.35 L 840.23,501.17"/>
<path d="M 841.69,510.40 L 865.51,498.65 Q 867.10,497.86 867.23,499.63 L 867.39,501.82 Q 867.63,504.98 864.81,506.39 L 842.52,517.55 Q 841.20,518.22 841.02,516.74 L 840.53,512.53 Q 840.36,511.05 841.69,510.40 Z"/>
<path d="M 864.61,499.08 L 864.77,501.26 Q 864.93,503.44 862.98,504.42 L 840.88,515.48"/>
<path d="M 868.09,377.51 L 891.84,375.43 Q 893.32,375.31 893.35,376.77 L 893.37,377.93 Q 893.42,380.36 891.22,381.48 L 868.97,392.75 Q 867.66,393.42 867.56,391.98 L 866.72,379.10 Q 866.62,377.65 868.09,377.51 Z"/>
<path d="M 891.35,375.47 L 891.38,377.35 Q 891.41,379.20 889.75,380.04 L 867.52,391.32"/>
<path d="M 870.19,399.71 L 891.67,389.56 Q 893.46,388.71 893.53,390.65 L 894.71,421.23 Q 894.80,423.14 893.08,424.07 L 872.17,435.19 Q 870.48,436.07 870.36,434.17 L 868.50,402.46 Q 868.41,400.54 870.19,399.71 Z"/>
<path d="M 890.43,390.14 L 891.58,420.12 Q 891.64,421.46 890.44,422.11 L 870.27,432.79"/>
<path d="M 871.24,444.94 L 892.90,434.57 Q 894.47,433.79 894.58,435.50 L 894.87,439.80 Q 895.08,442.85 892.28,444.22 L 871.93,454.10 Q 870.62,454.75 870.52,453.29 L 870.04,447.01 Q 869.93,445.57 871.24,444.94 Z"/>
<path d="M 892.07,434.97 L 892.34,438.95 Q 892.50,441.41 890.23,442.52 L 870.43,452.11"/>
<path d="M 872.01,461.66 L 893.54,450.82 Q 895.10,450.03 895.22,451.76 L 895.50,455.82 Q 895.72,458.90 892.95,460.31 L 872.66,470.64 Q 871.35,471.31 871.25,469.84 L 870.81,463.78 Q 870.70,462.32 872.01,461.66 Z"/>
<path d="M 892.71,451.24 L 892.97,454.95 Q 893.15,457.46 890.90,458.60 L 871.16,468.64"/>
<path d="M 872.72,477.69 L 894.16,466.86 Q 895.73,466.07 895.86,467.82 L 896.10,471.15 Q 896.33,474.27 893.54,475.67 L 873.35,485.95 Q 872.04,486.62 871.93,485.15 L 871.51,479.83 Q 871.41,478.36 872.72,477.69 Z"/>
<path d="M 893.35,467.27 L 893.57,470.27 Q 893.75,472.80 891.48,473.94 L 871.83,483.94"/>
<path d="M 873.41,491.86 L 894.73,481.48 Q 896.32,480.71 896.49,482.47 L 896.61,483.75 Q 896.90,486.80 894.15,488.12 L 874.06,497.98 Q 872.74,498.64 872.58,497.17 L 872.25,493.99 Q 872.09,492.52 873.41,491.86 Z"/>
<path d="M 893.95,481.86 L 894.11,483.58 Q 894.28,485.31 892.72,486.06 L 872.46,496.01"/>
<path d="M 901.63,375.38 L 936.47,374.48 Q 937.96,374.44 938.01,375.89 L 938.04,376.37 Q 938.12,378.30 936.35,379.16 L 902.20,396.08 Q 900.87,396.74 900.83,395.29 L 900.19,376.88 Q 900.15,375.42 901.63,375.38 Z"/>
<path d="M 935.97,374.48 L 936.03,375.81 Q 936.08,377.13 934.87,377.73 L 900.80,394.60"/>
<path d="M 903.32,403.74 L 936.08,387.39 Q 937.84,386.52 937.95,388.43 L 939.35,412.44 Q 939.46,414.33 937.70,415.22 L 904.28,432.38 Q 902.52,433.28 902.45,431.37 L 901.61,406.55 Q 901.55,404.63 903.32,403.74 Z"/>
<path d="M 934.83,388.01 L 936.18,411.31 Q 936.26,412.64 935.03,413.26 L 902.39,429.99"/>
<path d="M 902.52,446.10 Q 902.32,444.18 903.90,443.42 L 929.97,429.70 C 928.06,432.19 926.35,434.68 925.04,437.36 C 924.24,439.09 924.23,440.64 924.93,441.61 L 926.42,443.26 L 905.11,453.26 Q 903.33,454.11 903.12,452.27 Z"/>
<path d="M 904.11,450.06 L 923.24,440.54"/>
<path d="M 929.97,429.70 L 933.87,427.61"/>
<path d="M 933.28,426.27 L 938.67,425.34 L 939.04,430.32 L 936.05,430.11 Z" fill="#555"/>
<path d="M 938.84,430.41 C 936.04,431.07 934.04,432.40 932.44,433.64 C 930.64,435.27 929.43,437.00 928.63,438.44 C 927.63,440.46 927.02,442.00 926.82,443.26 C 926.32,445.10 926.22,447.04 926.41,448.79 C 926.61,449.96 927.01,450.75 927.41,451.24 L 931.19,453.03"/>
<path d="M 902.95,462.93 Q 902.75,461.27 904.33,460.52 L 926.41,448.99 L 931.19,453.03 L 905.54,466.58 Q 903.75,467.43 903.55,465.86 Z"/>
<path d="M 903.94,464.31 L 927.61,452.31"/>
<path d="M 937.79,442.98 C 936.53,445.37 934.45,446.75 933.12,446.09 C 931.80,445.41 931.75,442.94 933.00,440.56 C 934.26,438.19 936.35,436.81 937.67,437.47 C 939.00,438.14 939.05,440.61 937.79,442.98 Z"/>
<path d="M 905.73,474.92 L 938.82,455.51 Q 940.35,454.61 940.60,456.36 L 940.75,457.36 Q 941.15,460.12 938.76,461.57 L 906.41,481.01 Q 905.15,481.75 904.98,480.28 L 904.63,477.12 Q 904.46,475.65 905.73,474.92 Z"/>
<path d="M 938.04,455.97 L 938.25,457.41 Q 938.45,458.85 937.21,459.60 L 904.84,479.04"/>
<path d="M 676.41,481.06 L 676.40,483.51"/>
<path d="M 676.41,481.45 C 678.79,479.92 681.76,478.98 684.53,479.02 C 687.10,479.25 689.27,480.06 691.04,481.26 C 693.80,483.25 695.97,485.82 697.53,488.58 C 699.50,491.93 701.06,494.88 702.34,496.66 C 703.22,498.04 704.21,499.42 704.80,500.61"/>
<path d="M 704.80,500.61 C 704.00,502.17 703.40,503.14 703.09,503.93 L 702.28,508.64 C 699.79,510.58 697.00,512.13 694.12,513.48 C 691.43,515.22 688.64,517.37 685.85,519.02 C 683.66,519.69 681.09,519.77 678.51,519.64 L 673.66,519.29"/>
<path d="M 676.40,483.70 L 659.63,489.96 C 658.54,490.83 657.84,492.00 657.53,493.57 L 656.30,499.26 L 658.25,514.68"/>
<path d="M 676.40,483.70 C 678.77,484.03 680.94,484.64 682.91,485.85 C 685.08,487.24 686.95,488.84 688.52,490.72 C 690.19,492.79 691.56,494.97 692.54,497.33 C 693.71,500.09 694.38,502.85 694.56,505.41 L 694.12,513.48"/>
<path d="M 662.44,499.33 L 662.87,494.03 L 677.16,488.61 C 679.53,489.33 681.70,490.53 683.66,492.32 C 685.63,494.31 687.20,496.88 688.46,499.64 C 689.54,502.21 690.31,504.97 690.49,507.72 L 690.44,515.02"/>
<path d="M 679.13,489.13 L 678.83,530.03"/>
<path d="M 654.21,500.81 C 652.13,501.38 650.52,503.72 650.10,507.27 C 649.87,511.42 651.41,516.20 654.06,518.71"/>
<path d="M 655.08,503.58 C 653.68,504.94 653.26,507.50 653.64,510.27 C 654.01,512.85 654.98,515.24 656.36,516.64"/>
<path d="M 663.41,500.72 C 664.21,499.75 666.39,499.57 667.77,500.38 C 668.55,502.16 668.93,504.33 669.31,506.70 C 670.07,510.06 670.64,513.42 671.01,516.59 C 671.38,519.37 671.56,521.96 671.45,523.95 C 671.14,525.75 670.34,526.74 669.54,527.14 C 667.55,527.73 665.18,527.81 663.40,527.60 C 662.02,527.09 661.23,526.28 660.94,525.17 C 661.26,522.87 662.26,520.88 663.37,518.90 C 664.28,516.52 664.70,513.95 664.72,511.48 C 664.34,509.20 663.56,507.22 662.98,505.34 C 662.70,503.47 662.81,501.89 663.41,500.72 Z"/>
<path d="M 665.76,504.49 C 666.33,508.04 667.08,512.39 667.55,516.46 C 667.83,518.74 667.91,520.93 667.60,522.72 C 666.79,523.91 665.40,524.30 664.02,523.89"/>
<path d="M 670.16,523.74 L 673.72,524.17 L 673.11,526.57 L 669.94,526.94"/>
<path d="M 654.06,519.41 C 650.77,522.19 648.36,526.01 646.64,530.79 C 645.32,534.61 644.91,537.09 645.38,539.58 C 646.05,542.70 647.62,544.77 649.78,546.11 C 653.53,548.07 657.68,548.90 662.04,548.69 C 665.80,548.48 669.17,548.06 671.86,547.02 C 674.54,545.78 676.54,544.13 677.55,541.85 C 678.56,539.18 679.08,536.11 679.30,532.66"/>
<path d="M 661.47,520.87 C 659.28,522.25 657.29,524.24 655.68,526.65 C 653.68,529.68 652.27,532.34 651.95,535.01 C 651.83,538.12 652.80,540.40 654.77,541.85 C 657.13,543.51 659.90,544.33 662.87,544.43 C 666.43,544.54 669.80,543.91 672.68,542.78 C 674.77,541.85 676.17,540.82 676.77,539.38"/>
<path d="M 654.06,519.41 C 655.75,518.63 657.93,518.65 659.71,518.86 C 660.89,519.27 661.48,520.07 661.47,520.87"/>
<path d="M 660.43,539.35 L 673.13,536.49"/>
<path d="M 657.47,550.44 L 660.27,559.33 Q 660.75,560.55 662.14,560.55 L 663.92,560.56 Q 665.11,560.56 665.51,559.35 L 668.57,549.51"/>
<path d="M 664.41,549.93 L 664.64,569.20"/>
<path d="M 684.22,524.47 C 685.82,523.49 687.60,523.31 689.09,523.62 C 691.56,525.14 693.53,527.15 694.81,529.46 C 696.09,531.77 696.97,534.40 697.25,536.93 C 696.64,539.26 695.43,541.30 693.92,542.83 C 692.02,543.95 690.03,544.47 688.14,544.46 C 686.86,543.53 686.08,542.29 685.69,541.06"/>
<path d="M 684.22,524.47 C 685.80,526.08 686.98,527.69 687.96,529.50 L 691.75,526.33"/>
<path d="M 687.96,529.50 C 689.33,532.12 690.10,535.16 690.28,538.21 L 696.86,535.41"/>
<path d="M 690.28,538.21 C 689.86,540.46 689.05,542.51 688.14,544.46"/>
<path d="M 679.34,528.42 C 681.04,526.43 682.63,525.05 684.22,524.47"/>
<path d="M 679.30,533.67 L 684.96,532.70 C 685.94,534.53 686.12,536.97 685.70,539.01 L 680.86,549.10 L 676.84,555.28"/>
<path d="M 680.78,534.69 L 675.92,547.03 L 673.88,554.46"/>
<path d="M 682.96,534.10 L 678.90,546.82 L 676.26,553.23" stroke-width="1.0"/>
<path d="M 673.88,554.46 C 674.85,556.31 676.24,556.31 676.84,555.28"/>
<path d="M 673.88,554.46 C 672.87,556.71 672.65,559.36 673.42,561.19 C 674.60,562.00 676.00,561.20 676.81,559.37 C 677.42,557.53 677.23,556.10 676.84,555.28"/>
<path d="M 673.42,561.19 L 670.78,568.43"/>
<path d="M 671.82,571.43 C 672.10,572.83 669.81,574.50 666.71,575.14 C 663.60,575.79 660.86,575.17 660.57,573.78 C 660.29,572.37 662.58,570.71 665.68,570.07 C 668.79,569.41 671.53,570.03 671.82,571.43 Z"/>
<path d="M 669.12,572.32 C 669.23,572.92 668.29,573.61 667.01,573.89 C 665.72,574.15 664.58,573.88 664.46,573.29 C 664.34,572.69 665.28,572.00 666.57,571.73 C 667.86,571.47 668.99,571.73 669.12,572.32 Z" stroke-width="1.0"/>
<path d="M 660.25,573.37 L 660.43,621.61 C 661.40,624.03 663.77,625.05 666.35,624.86 C 669.12,624.67 671.31,623.47 672.11,621.66 L 672.54,572.04"/>
<path d="M 660.60,577.94 C 663.17,579.35 669.11,578.79 672.30,576.62" stroke-width="2.3" stroke="#4a4a4a" stroke-linecap="butt"/>
<path d="M 660.57,581.97 C 663.13,583.38 669.08,582.82 672.26,580.65" stroke-width="2.3" stroke="#4a4a4a" stroke-linecap="butt"/>
<path d="M 660.54,585.99 C 663.10,587.40 669.04,586.84 672.23,584.68" stroke-width="2.3" stroke="#4a4a4a" stroke-linecap="butt"/>
<path d="M 660.50,590.01 C 663.06,591.43 669.01,590.87 672.20,588.70" stroke-width="2.3" stroke="#4a4a4a" stroke-linecap="butt"/>
<path d="M 660.47,594.04 C 663.03,595.45 668.97,594.89 672.16,592.72" stroke-width="3.0" stroke="#4a4a4a" stroke-linecap="butt"/>
<path d="M 660.43,598.07 C 663.00,599.48 668.94,598.92 672.13,596.75" stroke-width="3.0" stroke="#4a4a4a" stroke-linecap="butt"/>
<path d="M 660.40,602.10 C 662.96,603.51 668.91,602.95 672.09,600.78" stroke-width="3.0" stroke="#4a4a4a" stroke-linecap="butt"/>
<path d="M 660.36,606.14 C 662.93,607.55 668.87,606.99 672.06,604.81" stroke-width="3.0" stroke="#4a4a4a" stroke-linecap="butt"/>
<path d="M 660.33,610.18 C 662.89,611.60 668.84,611.03 672.02,608.85" stroke-width="3.0" stroke="#4a4a4a" stroke-linecap="butt"/>
<path d="M 660.30,614.23 C 662.86,615.65 668.80,615.08 671.99,612.90" stroke-width="3.0" stroke="#4a4a4a" stroke-linecap="butt"/>
<path d="M 660.26,618.29 C 662.82,619.71 668.77,619.14 671.96,616.95" stroke-width="3.0" stroke="#4a4a4a" stroke-linecap="butt"/>
<path d="M 660.23,622.36 C 662.79,623.78 668.73,623.21 671.92,621.01" stroke-width="3.0" stroke="#4a4a4a" stroke-linecap="butt"/>
<path d="M 640.73,587.09 C 645.26,588.93 652.19,589.20 659.73,587.48"/>
<path d="M 640.65,596.23 C 645.19,597.67 652.12,597.15 659.87,594.63"/>
<path d="M 672.68,578.61 C 679.03,576.85 685.98,575.27 693.92,573.68"/>
<path d="M 672.62,585.17 C 677.98,583.41 682.95,582.03 687.91,580.85 C 690.49,580.26 692.48,579.46 693.87,578.87"/>
<path d="M 676.53,568.65 C 678.72,567.45 681.69,567.66 683.66,569.07 C 685.43,570.27 685.62,571.47 684.03,571.87 C 681.65,572.27 678.68,571.66 676.91,570.45 Z"/>
<path d="M 672.56,592.73 C 674.94,592.14 676.93,590.76 678.53,588.78 C 680.13,586.80 681.14,584.81 682.94,582.83"/>
<path d="M 672.57,614.65 C 676.35,612.26 679.35,608.68 681.37,604.70 C 683.18,601.12 684.40,597.34 686.40,594.37 C 688.21,591.79 690.40,590.20 693.18,589.41"/>
<path d="M 685.60,596.35 C 687.39,595.16 689.76,595.37 691.73,596.37 C 694.69,597.76 697.64,600.35 700.99,602.15"/>
<path d="M 693.87,578.87 L 693.31,597.17"/>
<path d="M 641.51,635.44 C 645.92,629.18 651.91,622.55 659.47,618.38"/>
<path d="M 668.72,625.07 C 667.71,627.08 664.73,628.08 660.77,628.66 C 657.40,629.25 655.41,630.25 654.60,632.07 C 653.39,634.70 652.77,637.75 652.55,640.81 L 651.66,652.44"/>
<path d="M 671.30,624.27 C 670.68,627.69 667.69,629.70 663.72,630.50 C 660.16,631.09 657.77,632.09 656.96,634.11 C 655.95,636.75 655.52,640.82 655.29,644.90 L 655.03,652.04"/>
<path d="M 657.24,648.78 C 657.22,650.36 656.24,651.64 655.04,651.63 C 653.83,651.63 652.87,650.35 652.88,648.77 C 652.89,647.18 653.87,645.91 655.08,645.92 C 656.29,645.92 657.25,647.20 657.24,648.78 Z"/>
<path d="M 654.04,652.85 C 654.03,654.10 653.21,655.09 652.23,655.09 C 651.25,655.09 650.46,654.08 650.47,652.84 C 650.48,651.59 651.29,650.60 652.27,650.60 C 653.25,650.61 654.05,651.61 654.04,652.85 Z"/>
<path d="M 651.84,654.68 C 650.22,659.16 648.80,663.62 648.56,667.88 C 648.54,670.91 649.31,673.13 650.69,673.95 C 652.67,674.36 654.66,673.57 656.05,672.16 C 657.45,670.55 658.06,668.53 657.88,666.51 C 657.52,662.04 656.38,657.14 655.03,652.65"/>
<path d="M 653.42,655.10 C 652.59,660.19 652.35,665.26 653.11,669.32 C 653.68,671.54 654.66,672.56 656.05,672.16"/>
<path d="M 643.16,650.56 L 651.75,641.82"/>
</g>
<g filter="url(#nf)">
<text transform="translate(136.9,244.0) scale(0.915,1)" font-size="26.0" fill="#1c1c1c" text-anchor="middle">2</text>
<text transform="translate(256.9,353.9) scale(0.915,1)" font-size="26.0" fill="#1c1c1c" text-anchor="middle">3</text>
<text transform="translate(311.7,554.0) scale(0.915,1)" font-size="26.0" fill="#1c1c1c" text-anchor="middle">1</text>
<text transform="translate(588.2,524.8) scale(0.915,1)" font-size="26.0" fill="#1c1c1c" text-anchor="middle">4</text>
</g>
</svg>
</body></html>
